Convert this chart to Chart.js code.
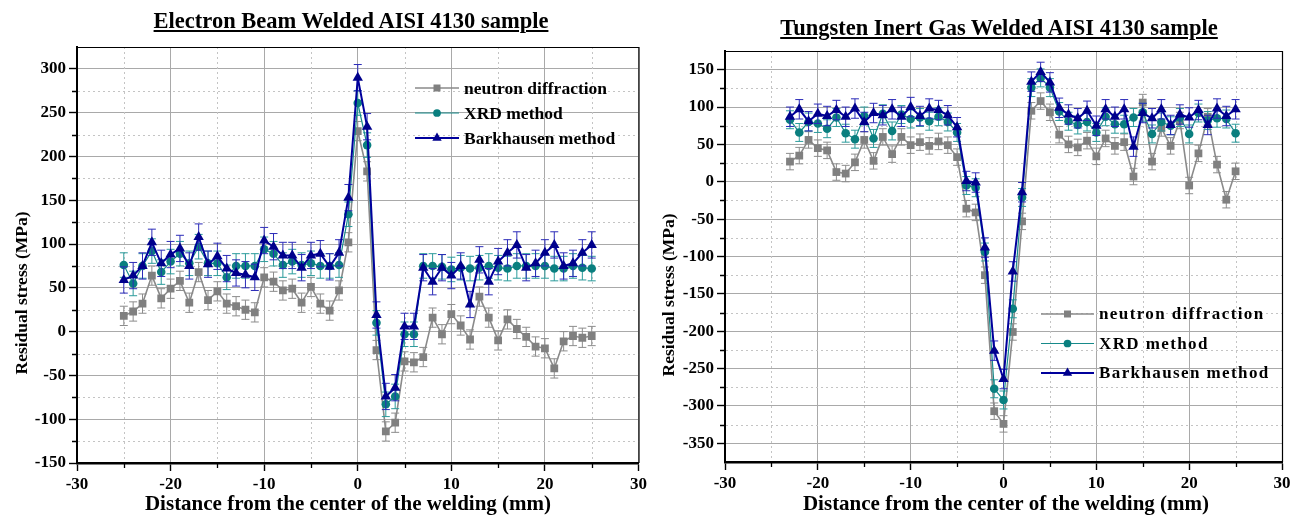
<!DOCTYPE html>
<html>
<head>
<meta charset="utf-8">
<script src="https://cdn.jsdelivr.net/npm/chart.js@4.4.1/dist/chart.umd.min.js"></script>
<style>
  body { margin: 0; background: #fff; width: 1299px; height: 518px; overflow: hidden; position: relative; }
  .panel { position: absolute; top: 0; height: 518px; }
  .panel canvas { position: absolute; left: 0; top: 0; }
  .title {
    position: absolute; z-index: 2; white-space: nowrap; transform: translateX(-50%);
    font-family: 'Liberation Serif', 'Times New Roman', serif; font-weight: bold; font-size: 22.5px;
    text-decoration: underline; text-underline-offset: 2px; color: #000;
  }
</style>
</head>
<body>
<div class="panel" style="left:0;width:650px">
  <canvas id="ebw-chart" width="650" height="518"></canvas>
  <div class="title" style="left:351px;top:8px">Electron Beam Welded AISI 4130 sample</div>
</div>
<div class="panel" style="left:650px;width:649px">
  <canvas id="tig-chart" width="649" height="518"></canvas>
  <div class="title" style="left:349px;top:15px">Tungsten Inert Gas Welded AISI 4130 sample</div>
</div>

<script>
// ---- data (MPa vs mm) ----
const seriesNames = ['neutron diffraction', 'XRD method', 'Barkhausen method'];

const ebwDistance = [-25, -24, -23, -22, -21, -20, -19, -18, -17, -16, -15, -14, -13, -12, -11, -10, -9, -8, -7, -6, -5, -4, -3, -2, -1,
  0, 1, 2, 3, 4, 5, 6, 7, 8, 9, 10, 11, 12, 13, 14, 15, 16, 17, 18, 19, 20, 21, 22, 23, 24, 25];
const ebwNeutron = [18, 23, 32, 64, 38, 49, 58, 33, 68, 36, 46, 32, 29, 25, 22, 62, 57, 47, 49, 33, 51, 32, 24, 47, 102,
  229, 183, -21, -114, -104, -34, -35, -29, 16, -3, 20, 7, -9, 40, 16, -10, 14, 3, -6, -17, -19, -42, -11, -5, -7, -5];
const ebwXrd = [76, 55, 75, 92, 68, 80, 89, 78, 97, 78, 78, 62, 75, 75, 75, 94, 89, 76, 80, 76, 78, 75, 75, 76, 134,
  261, 213, 10, -83, -74, -3, -3, 75, 75, 74, 71, 73, 72, 73, 75, 73, 72, 75, 75, 75, 75, 72, 72, 75, 73, 72];
const ebwBarkhausen = [59, 64, 75, 102, 78, 88, 95, 75, 108, 77, 86, 72, 67, 65, 62, 104, 97, 87, 87, 73, 87, 89, 74, 90, 153,
  290, 234, 19, -74, -64, 6, 6, 73, 57, 73, 64, 75, 31, 82, 57, 80, 90, 99, 73, 78, 90, 99, 75, 78, 90, 99];
const ebwErrors = [11, 14, 15];

const tigDistance = [-23, -22, -21, -20, -19, -18, -17, -16, -15, -14, -13, -12, -11, -10, -9, -8, -7, -6, -5, -4, -3, -2, -1,
  0, 1, 2, 3, 4, 5, 6, 7, 8, 9, 10, 11, 12, 13, 14, 15, 16, 17, 18, 19, 20, 21, 22, 23, 24, 25];
const tigNeutron = [27, 35, 56, 45, 42, 13, 11, 26, 56, 28, 60, 37, 60, 49, 53, 48, 54, 49, 33, -36, -41, -125, -307,
  -324, -201, -53, 95, 108, 93, 63, 50, 46, 55, 34, 58, 48, 53, 7, 106, 27, 72, 48, 82, -5, 38, 87, 23, -24, 14];
const tigXrd = [83, 66, 80, 78, 71, 86, 65, 57, 88, 58, 91, 68, 90, 84, 86, 81, 87, 80, 66, -5, -8, -94, -277,
  -292, -170, -21, 126, 139, 126, 94, 81, 76, 80, 66, 87, 77, 77, 86, 93, 64, 80, 75, 86, 64, 92, 82, 85, 84, 65];
const tigBarkhausen = [87, 97, 81, 91, 88, 96, 87, 98, 80, 92, 89, 97, 87, 100, 88, 98, 96, 89, 73, 1, -1, -88, -226,
  -264, -120, -14, 134, 147, 133, 99, 90, 85, 95, 75, 97, 87, 97, 47, 92, 85, 97, 76, 90, 86, 96, 76, 98, 88, 97];
const tigErrors = [11, 12, 13];

const xTitle = 'Distance from the center of the welding (mm)';
const yTitle = 'Residual stress (MPa)';

// ---- styling ----
const FONT = "'Liberation Serif', 'Times New Roman', serif";
Chart.defaults.font.family = FONT;
Chart.defaults.font.weight = 'bold';
Chart.defaults.color = '#000';

const seriesStyles = [
  { point: '#808080', line: '#8a8a8a', err: '#8c8c8c', pointStyle: 'rect', radius: 5.5, width: 1.6 },
  { point: '#0a7f7f', line: '#178a8a', err: '#2b9b9b', pointStyle: 'circle', radius: 4.3, width: 1.2 },
  { point: '#00008c', line: '#00009c', err: '#2b2bb8', pointStyle: 'triangle', radius: 6, width: 2 },
];

const isMajor = (v, step) => Math.abs(v % step) < 1e-9;

function drawMarker(ctx, style, cx, cy, r) {
  ctx.fillStyle = style.point;
  ctx.beginPath();
  if (style.pointStyle === 'rect') {
    const s = r * Math.SQRT2;
    ctx.rect(cx - s / 2, cy - s / 2, s, s);
  } else if (style.pointStyle === 'circle') {
    ctx.arc(cx, cy, r, 0, Math.PI * 2);
  } else {
    ctx.moveTo(cx, cy - r);
    ctx.lineTo(cx + r * 0.866, cy + r * 0.5);
    ctx.lineTo(cx - r * 0.866, cy + r * 0.5);
    ctx.closePath();
  }
  ctx.fill();
}

// minor ticks that are not on the frame edges
const minorTicks = (scale, step) =>
  scale.ticks.filter((t) => !isMajor(t.value, step) && t.value > scale.min && t.value < scale.max);

// error bars, minor grid / ticks, frame, axis titles and in-plot legend
const panelDecor = {
  id: 'panelDecor',
  beforeDatasetsDraw(chart) {
    const { ctx, chartArea: a, scales: { x, y } } = chart;
    ctx.save();
    ctx.strokeStyle = '#c4c4c4';
    ctx.lineWidth = 1;
    ctx.setLineDash([2, 3]);
    ctx.beginPath();
    minorTicks(x, 10).forEach((t) => {
      const px = Math.round(x.getPixelForValue(t.value)) + 0.5;
      ctx.moveTo(px, a.top); ctx.lineTo(px, a.bottom - 2);
    });
    minorTicks(y, 50).forEach((t) => {
      const py = Math.round(y.getPixelForValue(t.value)) + 0.5;
      ctx.moveTo(a.left + 1, py); ctx.lineTo(a.right, py);
    });
    ctx.stroke();
    ctx.restore();
  },
  beforeDatasetDraw(chart, args) {
    const ds = chart.data.datasets[args.index];
    const { ctx } = chart;
    const y = chart.scales.y;
    ctx.save();
    ctx.strokeStyle = ds.errColor;
    ctx.lineWidth = 1;
    ctx.beginPath();
    args.meta.data.forEach((pt, j) => {
      const v = ds.data[j].y;
      const top = y.getPixelForValue(v + ds.errorBar);
      const bot = y.getPixelForValue(v - ds.errorBar);
      ctx.moveTo(pt.x, top); ctx.lineTo(pt.x, bot);
      ctx.moveTo(pt.x - 4, top); ctx.lineTo(pt.x + 4, top);
      ctx.moveTo(pt.x - 4, bot); ctx.lineTo(pt.x + 4, bot);
    });
    ctx.stroke();
    ctx.restore();
  },
  afterDraw(chart, args, opts) {
    const { ctx, chartArea: a, scales: { x, y } } = chart;
    ctx.save();
    // top / right frame
    ctx.strokeStyle = '#000';
    ctx.lineWidth = 1.2;
    ctx.beginPath();
    ctx.moveTo(a.left, a.top + 0.5); ctx.lineTo(a.right + 0.5, a.top + 0.5); ctx.lineTo(a.right + 0.5, a.bottom);
    ctx.stroke();
    // minor tick marks
    ctx.lineWidth = 1.3;
    ctx.beginPath();
    minorTicks(x, 10).forEach((t) => {
      const px = Math.round(x.getPixelForValue(t.value)) + 0.5;
      ctx.moveTo(px, a.bottom); ctx.lineTo(px, a.bottom + 5);
    });
    minorTicks(y, 50).forEach((t) => {
      const py = Math.round(y.getPixelForValue(t.value)) + 0.5;
      ctx.moveTo(a.left - 5, py); ctx.lineTo(a.left, py);
    });
    ctx.stroke();

    // axis titles (placed like the original, a little off the axis centre)
    const tt = opts.titles;
    ctx.fillStyle = '#000';
    ctx.textAlign = 'center';
    ctx.textBaseline = 'middle';
    ctx.font = `bold ${tt.xSize}px ${FONT}`;
    ctx.fillText(xTitle, tt.xCenter[0], tt.xCenter[1]);
    ctx.save();
    ctx.translate(tt.yCenter[0], tt.yCenter[1]);
    ctx.rotate(-Math.PI / 2);
    ctx.font = `bold ${tt.ySize}px ${FONT}`;
    ctx.fillText(yTitle, 0, 0);
    ctx.restore();

    // legend
    const lg = opts.legend;
    chart.data.datasets.forEach((ds, i) => {
      const st = seriesStyles[i];
      const cy = lg.y + i * lg.row;
      ctx.strokeStyle = st.line;
      ctx.lineWidth = st.width;
      ctx.beginPath();
      ctx.moveTo(lg.x, cy); ctx.lineTo(lg.x + lg.len, cy);
      ctx.stroke();
      drawMarker(ctx, st, lg.x + lg.len / 2, cy, st.radius * 0.9);
      ctx.fillStyle = '#000';
      ctx.font = `bold ${lg.size}px ${FONT}`;
      ctx.letterSpacing = `${lg.spacing}px`;
      ctx.textBaseline = 'middle';
      ctx.textAlign = 'left';
      ctx.fillText(ds.label, lg.x + lg.len + 5, cy + 1);
    });
    ctx.restore();
  },
};

function buildDatasets(distance, series, errors) {
  return series.map((values, i) => {
    const st = seriesStyles[i];
    return {
      label: seriesNames[i],
      data: values.map((v, j) => ({ x: distance[j], y: v })),
      errorBar: errors[i],
      errColor: st.err,
      borderColor: st.line,
      borderWidth: st.width,
      pointStyle: st.pointStyle,
      pointRadius: st.radius,
      pointBackgroundColor: st.point,
      pointBorderColor: st.point,
      pointBorderWidth: 0,
      tension: 0,
      order: 3 - i,
    };
  });
}

function buildChart(canvasId, distance, series, errors, frame) {
  const ctx = document.getElementById(canvasId);
  return new Chart(ctx, {
    type: 'line',
    data: { datasets: buildDatasets(distance, series, errors) },
    plugins: [panelDecor],
    options: {
      responsive: false,
      animation: false,
      layout: { padding: { top: frame.top, right: frame.right, left: 0, bottom: 0 } },
      plugins: {
        legend: { display: false },
        tooltip: { enabled: false },
        panelDecor: { legend: frame.legend, titles: frame.titles },
      },
      scales: {
        x: {
          type: 'linear',
          min: -30,
          max: 30,
          afterFit: (s) => { s.height = frame.xHeight; },
          ticks: {
            stepSize: 5,
            autoSkip: false,
            maxRotation: 0,
            padding: 3,
            font: { size: 17, weight: 'bold' },
            callback: (v) => (isMajor(v, 10) ? v : ''),
          },
          grid: {
            color: (c) => (c.tick && isMajor(c.tick.value, 10) ? '#a9a9a9' : 'rgba(0,0,0,0)'),
            tickColor: (c) => (c.tick && isMajor(c.tick.value, 10) ? '#000' : 'rgba(0,0,0,0)'),
            tickLength: 8,
            tickWidth: 1.4,
          },
          border: { color: '#000', width: 2.5 },
        },
        y: {
          min: frame.yMin,
          max: frame.yMax,
          afterFit: (s) => { s.width = frame.yWidth; },
          ticks: {
            stepSize: 25,
            autoSkip: false,
            padding: 3,
            font: { size: 17, weight: 'bold' },
            callback: (v) => (isMajor(v, 50) ? v : ''),
          },
          grid: {
            color: (c) => (c.tick && isMajor(c.tick.value, 50) ? '#a9a9a9' : 'rgba(0,0,0,0)'),
            tickColor: (c) => (c.tick && isMajor(c.tick.value, 50) ? '#000' : 'rgba(0,0,0,0)'),
            tickLength: 8,
            tickWidth: 1.4,
          },
          border: { color: '#000', width: 2 },
        },
      },
    },
  });
}

buildChart('ebw-chart', ebwDistance, [ebwNeutron, ebwXrd, ebwBarkhausen], ebwErrors, {
  top: 47, right: 10, xHeight: 55, yWidth: 77, yMin: -150, yMax: 325,
  legend: { x: 415, y: 88, row: 25, len: 44, size: 17.5, spacing: 0 },
  titles: { xCenter: [348, 505], xSize: 21, yCenter: [22, 293], ySize: 17.5 },
});

buildChart('tig-chart', tigDistance, [tigNeutron, tigXrd, tigBarkhausen], tigErrors, {
  top: 51, right: 17, xHeight: 56, yWidth: 75, yMin: -375, yMax: 175,
  legend: { x: 391, y: 314, row: 29.5, len: 53, size: 17, spacing: 1.4 },
  titles: { xCenter: [356, 505], xSize: 21, yCenter: [19, 295], ySize: 17.5 },
});
</script>
</body>
</html>
